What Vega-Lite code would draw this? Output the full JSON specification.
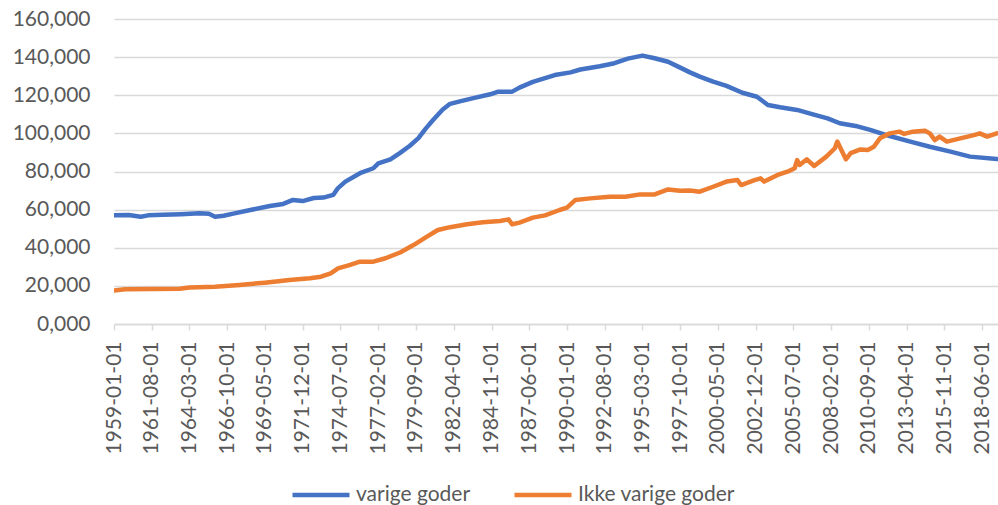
{
  "$schema": "https://vega.github.io/schema/vega-lite/v6.json",
  "width": 884,
  "height": 305,
  "autosize": "none",
  "padding": {"left": 114, "top": 19, "right": 0, "bottom": 181},
  "background": "white",
  "config": {
    "view": {"stroke": null},
    "font": "Lato",
    "axis": {"labelFont": "Lato", "labelColor": "#595959", "labelFontSize": 21}
  },
  "data": {
    "values": [
      {"date": "1959-01-01", "series": "varige goder", "value": 57.0},
      {"date": "1960-01-01", "series": "varige goder", "value": 57.2},
      {"date": "1960-11-01", "series": "varige goder", "value": 56.3},
      {"date": "1961-05-01", "series": "varige goder", "value": 57.0},
      {"date": "1962-05-01", "series": "varige goder", "value": 57.3},
      {"date": "1963-08-01", "series": "varige goder", "value": 57.6},
      {"date": "1964-11-01", "series": "varige goder", "value": 58.1},
      {"date": "1965-07-01", "series": "varige goder", "value": 57.8},
      {"date": "1965-12-01", "series": "varige goder", "value": 56.3},
      {"date": "1966-07-01", "series": "varige goder", "value": 56.8},
      {"date": "1967-03-01", "series": "varige goder", "value": 57.9},
      {"date": "1968-05-01", "series": "varige goder", "value": 59.8},
      {"date": "1969-09-01", "series": "varige goder", "value": 61.9},
      {"date": "1970-08-01", "series": "varige goder", "value": 63.0},
      {"date": "1971-04-01", "series": "varige goder", "value": 65.1},
      {"date": "1971-12-01", "series": "varige goder", "value": 64.5},
      {"date": "1972-09-01", "series": "varige goder", "value": 66.1},
      {"date": "1973-05-01", "series": "varige goder", "value": 66.3},
      {"date": "1974-01-01", "series": "varige goder", "value": 67.7},
      {"date": "1974-05-01", "series": "varige goder", "value": 71.3},
      {"date": "1974-11-01", "series": "varige goder", "value": 74.7},
      {"date": "1975-11-01", "series": "varige goder", "value": 79.1},
      {"date": "1976-10-01", "series": "varige goder", "value": 81.7},
      {"date": "1977-02-01", "series": "varige goder", "value": 84.3},
      {"date": "1977-12-01", "series": "varige goder", "value": 86.4},
      {"date": "1978-08-01", "series": "varige goder", "value": 89.8},
      {"date": "1979-04-01", "series": "varige goder", "value": 93.5},
      {"date": "1979-11-01", "series": "varige goder", "value": 97.5},
      {"date": "1980-05-01", "series": "varige goder", "value": 102.5},
      {"date": "1980-11-01", "series": "varige goder", "value": 107.0},
      {"date": "1981-07-01", "series": "varige goder", "value": 112.5},
      {"date": "1982-01-01", "series": "varige goder", "value": 115.5},
      {"date": "1982-09-01", "series": "varige goder", "value": 116.8},
      {"date": "1983-09-01", "series": "varige goder", "value": 118.6},
      {"date": "1984-10-01", "series": "varige goder", "value": 120.5},
      {"date": "1985-04-01", "series": "varige goder", "value": 121.8},
      {"date": "1986-04-01", "series": "varige goder", "value": 121.9},
      {"date": "1986-10-01", "series": "varige goder", "value": 124.0},
      {"date": "1987-09-01", "series": "varige goder", "value": 127.0},
      {"date": "1988-07-01", "series": "varige goder", "value": 129.0},
      {"date": "1989-03-01", "series": "varige goder", "value": 130.6},
      {"date": "1990-04-01", "series": "varige goder", "value": 132.0},
      {"date": "1990-12-01", "series": "varige goder", "value": 133.5},
      {"date": "1992-04-01", "series": "varige goder", "value": 135.2},
      {"date": "1993-04-01", "series": "varige goder", "value": 136.8},
      {"date": "1994-03-01", "series": "varige goder", "value": 139.2},
      {"date": "1995-03-01", "series": "varige goder", "value": 140.8},
      {"date": "1996-01-01", "series": "varige goder", "value": 139.4},
      {"date": "1996-12-01", "series": "varige goder", "value": 137.6},
      {"date": "1997-10-01", "series": "varige goder", "value": 134.5},
      {"date": "1998-06-01", "series": "varige goder", "value": 132.0},
      {"date": "1999-02-01", "series": "varige goder", "value": 129.8},
      {"date": "2000-01-01", "series": "varige goder", "value": 127.1},
      {"date": "2000-12-01", "series": "varige goder", "value": 124.9},
      {"date": "2002-01-01", "series": "varige goder", "value": 121.3},
      {"date": "2003-01-01", "series": "varige goder", "value": 119.2},
      {"date": "2003-10-01", "series": "varige goder", "value": 114.9},
      {"date": "2004-08-01", "series": "varige goder", "value": 113.7},
      {"date": "2005-10-01", "series": "varige goder", "value": 112.3},
      {"date": "2006-11-01", "series": "varige goder", "value": 110.0},
      {"date": "2007-11-01", "series": "varige goder", "value": 107.9},
      {"date": "2008-09-01", "series": "varige goder", "value": 105.3},
      {"date": "2009-10-01", "series": "varige goder", "value": 103.9},
      {"date": "2010-10-01", "series": "varige goder", "value": 101.8},
      {"date": "2012-02-01", "series": "varige goder", "value": 98.6},
      {"date": "2013-07-01", "series": "varige goder", "value": 95.7},
      {"date": "2014-11-01", "series": "varige goder", "value": 93.0},
      {"date": "2016-04-01", "series": "varige goder", "value": 90.4},
      {"date": "2017-08-01", "series": "varige goder", "value": 87.8},
      {"date": "2019-06-01", "series": "varige goder", "value": 86.6},
      {"date": "1959-01-01", "series": "Ikke varige goder", "value": 17.5},
      {"date": "1959-10-01", "series": "Ikke varige goder", "value": 18.2},
      {"date": "1963-07-01", "series": "Ikke varige goder", "value": 18.5},
      {"date": "1964-03-01", "series": "Ikke varige goder", "value": 19.2},
      {"date": "1965-12-01", "series": "Ikke varige goder", "value": 19.6},
      {"date": "1967-08-01", "series": "Ikke varige goder", "value": 20.5},
      {"date": "1969-05-01", "series": "Ikke varige goder", "value": 21.7},
      {"date": "1971-01-01", "series": "Ikke varige goder", "value": 23.1},
      {"date": "1972-06-01", "series": "Ikke varige goder", "value": 24.0},
      {"date": "1973-03-01", "series": "Ikke varige goder", "value": 24.8},
      {"date": "1973-11-01", "series": "Ikke varige goder", "value": 26.6},
      {"date": "1974-05-01", "series": "Ikke varige goder", "value": 29.2},
      {"date": "1975-03-01", "series": "Ikke varige goder", "value": 31.0},
      {"date": "1975-11-01", "series": "Ikke varige goder", "value": 32.7},
      {"date": "1976-10-01", "series": "Ikke varige goder", "value": 32.7},
      {"date": "1977-08-01", "series": "Ikke varige goder", "value": 34.5},
      {"date": "1978-08-01", "series": "Ikke varige goder", "value": 37.5},
      {"date": "1979-07-01", "series": "Ikke varige goder", "value": 41.4},
      {"date": "1980-06-01", "series": "Ikke varige goder", "value": 45.8},
      {"date": "1981-03-01", "series": "Ikke varige goder", "value": 49.3},
      {"date": "1982-01-01", "series": "Ikke varige goder", "value": 50.8},
      {"date": "1983-03-01", "series": "Ikke varige goder", "value": 52.3},
      {"date": "1984-04-01", "series": "Ikke varige goder", "value": 53.4},
      {"date": "1985-06-01", "series": "Ikke varige goder", "value": 54.0},
      {"date": "1986-01-01", "series": "Ikke varige goder", "value": 54.9},
      {"date": "1986-04-01", "series": "Ikke varige goder", "value": 52.3},
      {"date": "1986-10-01", "series": "Ikke varige goder", "value": 53.2},
      {"date": "1987-09-01", "series": "Ikke varige goder", "value": 55.8},
      {"date": "1988-07-01", "series": "Ikke varige goder", "value": 57.0},
      {"date": "1989-07-01", "series": "Ikke varige goder", "value": 59.8},
      {"date": "1990-01-01", "series": "Ikke varige goder", "value": 61.0},
      {"date": "1990-08-01", "series": "Ikke varige goder", "value": 65.1},
      {"date": "1991-08-01", "series": "Ikke varige goder", "value": 65.9},
      {"date": "1992-12-01", "series": "Ikke varige goder", "value": 66.8},
      {"date": "1994-01-01", "series": "Ikke varige goder", "value": 66.8},
      {"date": "1995-01-01", "series": "Ikke varige goder", "value": 68.0},
      {"date": "1996-01-01", "series": "Ikke varige goder", "value": 68.0},
      {"date": "1996-12-01", "series": "Ikke varige goder", "value": 70.6},
      {"date": "1997-10-01", "series": "Ikke varige goder", "value": 69.9},
      {"date": "1998-06-01", "series": "Ikke varige goder", "value": 70.0},
      {"date": "1999-02-01", "series": "Ikke varige goder", "value": 69.4},
      {"date": "2000-01-01", "series": "Ikke varige goder", "value": 72.0},
      {"date": "2000-12-01", "series": "Ikke varige goder", "value": 74.7},
      {"date": "2001-09-01", "series": "Ikke varige goder", "value": 75.5},
      {"date": "2001-12-01", "series": "Ikke varige goder", "value": 72.9},
      {"date": "2002-11-01", "series": "Ikke varige goder", "value": 75.5},
      {"date": "2003-04-01", "series": "Ikke varige goder", "value": 76.4},
      {"date": "2003-07-01", "series": "Ikke varige goder", "value": 74.7},
      {"date": "2004-06-01", "series": "Ikke varige goder", "value": 78.2},
      {"date": "2005-02-01", "series": "Ikke varige goder", "value": 79.9},
      {"date": "2005-08-01", "series": "Ikke varige goder", "value": 81.7},
      {"date": "2005-10-01", "series": "Ikke varige goder", "value": 86.0},
      {"date": "2005-12-01", "series": "Ikke varige goder", "value": 83.4},
      {"date": "2006-06-01", "series": "Ikke varige goder", "value": 86.4},
      {"date": "2006-12-01", "series": "Ikke varige goder", "value": 82.9},
      {"date": "2007-10-01", "series": "Ikke varige goder", "value": 87.8},
      {"date": "2008-05-01", "series": "Ikke varige goder", "value": 92.2},
      {"date": "2008-07-01", "series": "Ikke varige goder", "value": 95.7},
      {"date": "2008-11-01", "series": "Ikke varige goder", "value": 90.4},
      {"date": "2009-02-01", "series": "Ikke varige goder", "value": 86.4},
      {"date": "2009-06-01", "series": "Ikke varige goder", "value": 89.6},
      {"date": "2010-02-01", "series": "Ikke varige goder", "value": 91.6},
      {"date": "2010-08-01", "series": "Ikke varige goder", "value": 91.3},
      {"date": "2011-01-01", "series": "Ikke varige goder", "value": 93.0},
      {"date": "2011-06-01", "series": "Ikke varige goder", "value": 97.4},
      {"date": "2012-02-01", "series": "Ikke varige goder", "value": 100.0},
      {"date": "2012-10-01", "series": "Ikke varige goder", "value": 100.9},
      {"date": "2013-02-01", "series": "Ikke varige goder", "value": 99.7},
      {"date": "2013-09-01", "series": "Ikke varige goder", "value": 100.9},
      {"date": "2014-07-01", "series": "Ikke varige goder", "value": 101.4},
      {"date": "2014-11-01", "series": "Ikke varige goder", "value": 100.0},
      {"date": "2015-03-01", "series": "Ikke varige goder", "value": 96.5},
      {"date": "2015-07-01", "series": "Ikke varige goder", "value": 98.3},
      {"date": "2016-01-01", "series": "Ikke varige goder", "value": 95.7},
      {"date": "2016-12-01", "series": "Ikke varige goder", "value": 97.4},
      {"date": "2017-12-01", "series": "Ikke varige goder", "value": 99.2},
      {"date": "2018-04-01", "series": "Ikke varige goder", "value": 100.0},
      {"date": "2018-10-01", "series": "Ikke varige goder", "value": 98.3},
      {"date": "2019-06-01", "series": "Ikke varige goder", "value": 100.0}
    ]
  },
  "mark": {"type": "line", "strokeWidth": 4.5, "strokeCap": "round", "strokeJoin": "round", "clip": true},
  "encoding": {
    "x": {
      "field": "date",
      "type": "temporal",
      "scale": {"type": "utc", "domain": [{"year": 1959, "month": 1, "date": 1, "utc": true}, {"year": 2019, "month": 7, "date": 1, "utc": true}]},
      "axis": {
        "title": null,
        "format": "%Y-%m-%d",
        "labelAngle": -90,
        "labelPadding": 11,
        "tickSize": 6,
        "tickColor": "#d9d9d9",
        "tickWidth": 1.5,
        "domainColor": "#d9d9d9",
        "domainWidth": 1.5,
        "grid": false,
        "labelOverlap": false,
        "labelFlush": false,
        "values": [
          {"year": 1959, "month": 1, "date": 1, "utc": true},
          {"year": 1961, "month": 8, "date": 1, "utc": true},
          {"year": 1964, "month": 3, "date": 1, "utc": true},
          {"year": 1966, "month": 10, "date": 1, "utc": true},
          {"year": 1969, "month": 5, "date": 1, "utc": true},
          {"year": 1971, "month": 12, "date": 1, "utc": true},
          {"year": 1974, "month": 7, "date": 1, "utc": true},
          {"year": 1977, "month": 2, "date": 1, "utc": true},
          {"year": 1979, "month": 9, "date": 1, "utc": true},
          {"year": 1982, "month": 4, "date": 1, "utc": true},
          {"year": 1984, "month": 11, "date": 1, "utc": true},
          {"year": 1987, "month": 6, "date": 1, "utc": true},
          {"year": 1990, "month": 1, "date": 1, "utc": true},
          {"year": 1992, "month": 8, "date": 1, "utc": true},
          {"year": 1995, "month": 3, "date": 1, "utc": true},
          {"year": 1997, "month": 10, "date": 1, "utc": true},
          {"year": 2000, "month": 5, "date": 1, "utc": true},
          {"year": 2002, "month": 12, "date": 1, "utc": true},
          {"year": 2005, "month": 7, "date": 1, "utc": true},
          {"year": 2008, "month": 2, "date": 1, "utc": true},
          {"year": 2010, "month": 9, "date": 1, "utc": true},
          {"year": 2013, "month": 4, "date": 1, "utc": true},
          {"year": 2015, "month": 11, "date": 1, "utc": true},
          {"year": 2018, "month": 6, "date": 1, "utc": true}
        ]
      }
    },
    "y": {
      "field": "value",
      "type": "quantitative",
      "scale": {"domain": [0, 160], "nice": false},
      "axis": {
        "title": null,
        "values": [0, 20, 40, 60, 80, 100, 120, 140, 160],
        "labelExpr": "replace(format(datum.value, '.3f'), '.', ',')",
        "domain": false,
        "ticks": false,
        "labelPadding": 24,
        "gridColor": "#d9d9d9",
        "gridWidth": 1.5
      }
    },
    "color": {
      "field": "series",
      "type": "nominal",
      "sort": ["varige goder", "Ikke varige goder"],
      "scale": {"domain": ["varige goder", "Ikke varige goder"], "range": ["#4472C4", "#ED7D31"]},
      "legend": {
        "title": null,
        "orient": "none",
        "direction": "horizontal",
        "legendX": 176,
        "legendY": 445,
        "symbolType": "stroke",
        "symbolSize": 3249,
        "symbolStrokeWidth": 4.5,
        "labelFont": "Lato",
        "labelFontSize": 21,
        "labelColor": "#595959",
        "labelOffset": 4,
        "columnPadding": 34,
        "padding": 0
      }
    }
  }
}
